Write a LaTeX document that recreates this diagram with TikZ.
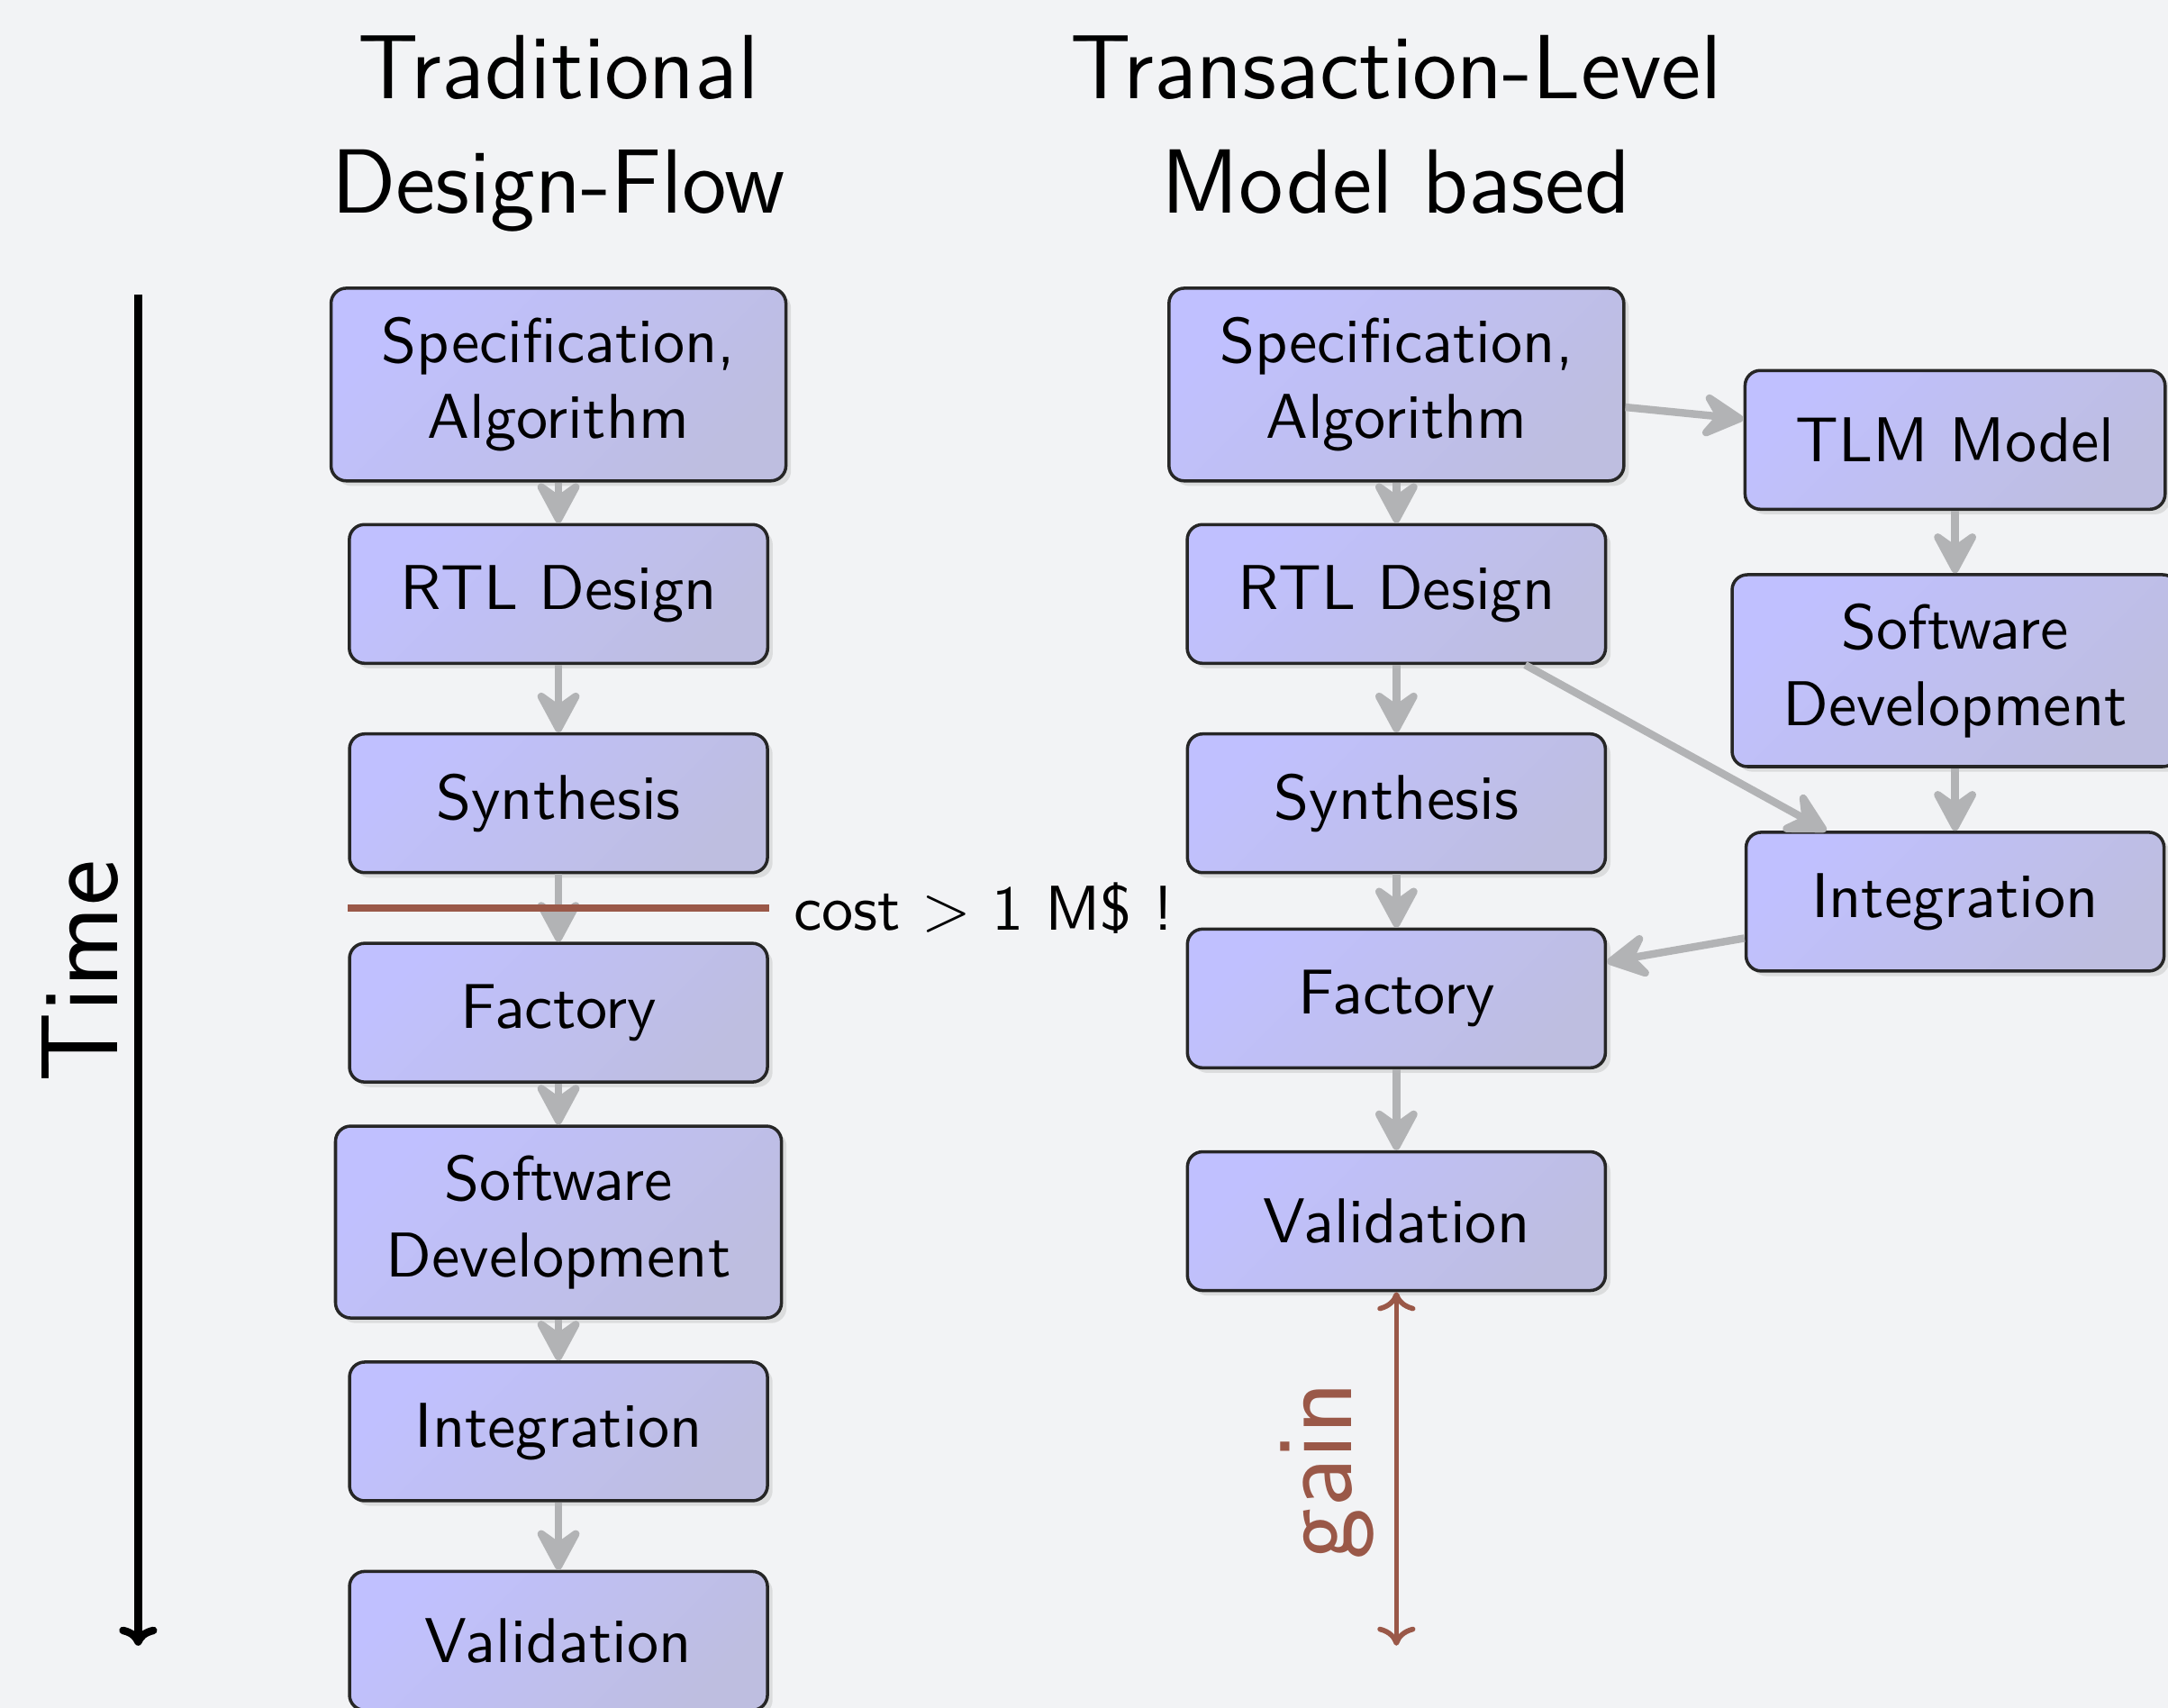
\documentclass[tikz,border=0pt]{standalone}
\usepackage{tikz}
\usetikzlibrary{arrows.meta,positioning,calc,shadows}
\renewcommand{\familydefault}{\sfdefault}
\definecolor{bgcol}{HTML}{F2F3F5}
\definecolor{boxtop}{HTML}{C0C0FF}
\definecolor{boxbot}{HTML}{BEBEE0}
\definecolor{gainred}{HTML}{9A5848}
\definecolor{arrgray}{HTML}{B2B3B5}
\tikzset{
  flowbox/.style={rectangle, rounded corners=2.4pt, draw=black!85, line width=0.5pt,
                  top color=boxtop, bottom color=boxbot, shading angle=45,
                  drop shadow={shadow xshift=0.8pt, shadow yshift=-0.8pt, opacity=0.2},
                  align=center, font=\normalsize, minimum width=2.32cm, minimum height=0.77cm,
                  inner xsep=8pt, inner ysep=4.6pt},
  headline/.style={align=center, font=\Large, anchor=north, inner sep=0pt},
  arr/.style={-{Stealth[length=2.9mm, width=3.1mm, inset=1.1mm, round]}, line width=1.2pt, draw=arrgray},
}

\begin{document}
\begin{tikzpicture}
        \fill[bgcol] (0,0) rectangle (12.034,-9.478);
        \useasboundingbox (0,0) rectangle (12.034,-9.478);
        % titles
        \node[headline] (ltitle) at (3.10,-0.19) {Traditional\\Design-Flow};
        \node[headline] (rtitle) at (7.75,-0.19) {Transaction-Level\\Model based};
        % traditional flow
        \node[flowbox] (lspec) at (3.10,-2.134) {Specification,\\Algorithm};
        \node[flowbox] (lrtl) at (3.10,-3.296) {RTL Design};
        \node[flowbox] (lsyn) at (3.10,-4.458) {Synthesis};
        \node[flowbox] (lfac) at (3.10,-5.620) {Factory};
        \node[flowbox] (lsw) at (3.10,-6.782) {Software\\Development};
        \node[flowbox] (lint) at (3.10,-7.944) {Integration};
        \node[flowbox] (lval) at (3.10,-9.106) {Validation};
        \draw[arr] (lspec) -- (lrtl);
        \draw[arr] (lrtl) -- (lsyn);
        \draw[arr] (lsyn) -- (lfac);
        \draw[arr] (lfac) -- (lsw);
        \draw[arr] (lsw) -- (lint);
        \draw[arr] (lint) -- (lval);
        \draw[gainred, line width=1.2pt] ($(lsyn.south west)!0.5!(lfac.north west)$)
          -- ($(lsyn.south east)!0.5!(lfac.north east)$) node[right, text=black] (cost) {cost $>$ 1 M\$ !};
        % TLM based flow
        \node[flowbox] (rspec) at (7.751,-2.134) {Specification,\\Algorithm};
        \node[flowbox] (rrtl) at (7.751,-3.296) {RTL Design};
        \node[flowbox] (rsyn) at (7.751,-4.458) {Synthesis};
        \node[flowbox] (rfac) at (7.751,-5.541) {Factory};
        \node[flowbox] (rval) at (7.751,-6.777) {Validation};
        \node[flowbox] (tlm) at (10.852,-2.441) {TLM Model};
        \node[flowbox] (tsw) at (10.852,-3.722) {Software\\Development};
        \node[flowbox] (tint) at (10.852,-5.004) {Integration};
        \draw[arr] (rspec) -- (rrtl);
        \draw[arr] (rrtl) -- (rsyn);
        \draw[arr] (rsyn) -- (rfac);
        \draw[arr] (rfac) -- (rval);
        \draw[arr] (rspec) -- (tlm);
        \draw[arr] (tlm) -- (tsw);
        \draw[arr] (tsw) -- (tint);
        \draw[arr] (rrtl) -- (tint);
        \draw[arr] (tint) -- (rfac);
        % time axis and gain
        \coordinate (timetop) at (0.767,-1.635);
        \coordinate (timebot) at (0.767,-9.133);
        \draw[-{Computer Modern Rightarrow[length=3pt, width=6pt]}, line width=1.2pt] (timetop) -- (timebot);
        \node[font=\LARGE, rotate=90, anchor=base] (timelbl) at (0.65,-5.39) {Time};
        \coordinate (gainend) at (7.751,-9.133);
        \draw[{Computer Modern Rightarrow[length=3pt, width=6pt]}-{Computer Modern Rightarrow[length=3pt, width=6pt]},
          gainred, line width=0.8pt] (rval.south) -- (gainend);
        \node[font=\LARGE, text=gainred, rotate=90, anchor=base] (gainlbl) at (7.50,-8.16) {gain};
      \end{tikzpicture}
\end{document}
